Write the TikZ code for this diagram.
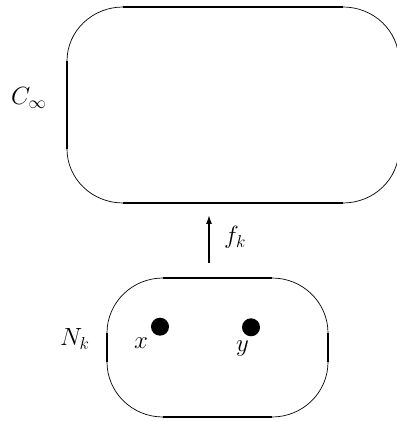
\documentclass[tikz,border=0pt]{standalone}
\usetikzlibrary{arrows.meta}
\begin{document}
\begin{tikzpicture}[x=1pt,y=1pt,
  side/.style={line width=1.4pt, line cap=butt},
  corner/.style={line width=0.7pt},
  lbl/.style={inner sep=0pt, font=\fontsize{25}{30}\selectfont},
  dot/.style={circle, fill=black, inner sep=0pt, minimum size=18pt}]
\useasboundingbox (0,0) rectangle (396,422);
% top box C_infinity
\draw[side] (123,415) -- (343,415);
\draw[side] (123,219) -- (343,219);
\draw[side] (67,361) -- (67,273);
\draw[side] (399,361) -- (399,273);
\draw[corner] (123,415) arc[start angle=90,end angle=180,x radius=56,y radius=54];
\draw[corner] (67,273) arc[start angle=180,end angle=270,x radius=56,y radius=54];
\draw[corner] (343,219) arc[start angle=270,end angle=360,x radius=56,y radius=54];
\draw[corner] (399,361) arc[start angle=0,end angle=90,x radius=56,y radius=54];
% bottom box N_k
\draw[side] (163,144) -- (272,144);
\draw[side] (163,5) -- (272,5);
\draw[side] (107,89) -- (107,60);
\draw[side] (328,89) -- (328,60);
\draw[corner] (163,144) arc[start angle=90,end angle=180,x radius=56,y radius=55];
\draw[corner] (107,60) arc[start angle=180,end angle=270,x radius=56,y radius=55];
\draw[corner] (272,5) arc[start angle=270,end angle=360,x radius=56,y radius=55];
\draw[corner] (328,89) arc[start angle=0,end angle=90,x radius=56,y radius=55];
% arrow f_k
\coordinate (a0) at (209,159);
\coordinate (a1) at (209,207);
\draw[line width=1.4pt, -{Latex[length=9pt,width=6pt]}] (a0) -- (a1);
% labels
\node[lbl, anchor=base west] (cinf) at (11,317.5) {$C_\infty$};
\node[lbl, anchor=base west] (nk) at (60,76) {$N_k$};
\node[lbl, anchor=base west] (fk) at (224,178) {$f_k$};
\node[lbl, anchor=base west] (lx) at (134,73) {$x$};
\node[lbl, anchor=base west] (ly) at (236,70.5) {$y$};
% points
\node[dot] (px) at (160,95.3) {};
\node[dot] (py) at (251,94.7) {};
\end{tikzpicture}
\end{document}
